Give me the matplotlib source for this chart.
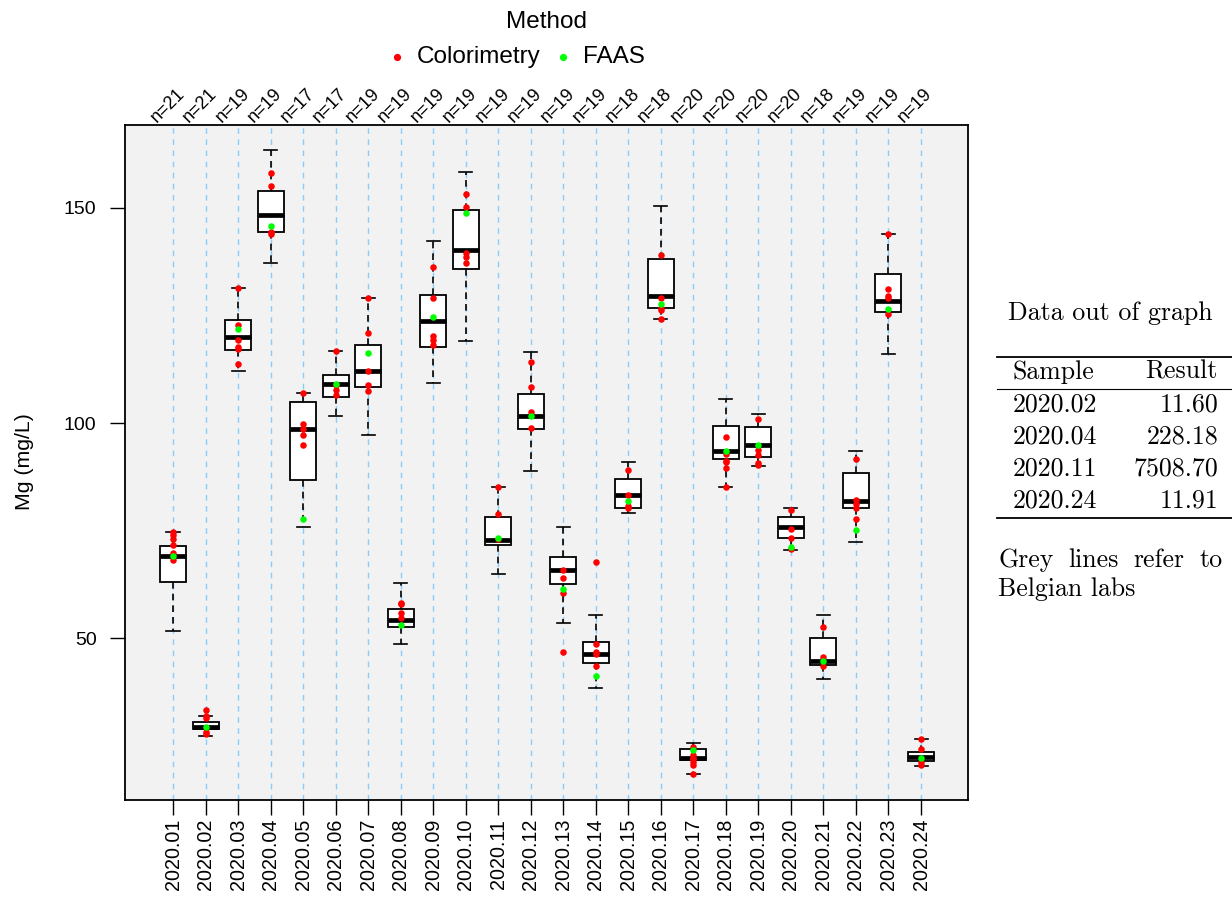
import matplotlib
matplotlib.use("Agg")
import matplotlib.pyplot as plt
from matplotlib.lines import Line2D

# ---------------- data ----------------
samples = ["2020.01", "2020.02", "2020.03", "2020.04", "2020.05", "2020.06",
           "2020.07", "2020.08", "2020.09", "2020.10", "2020.11", "2020.12",
           "2020.13", "2020.14", "2020.15", "2020.16", "2020.17", "2020.18",
           "2020.19", "2020.20", "2020.21", "2020.22", "2020.23", "2020.24"]
n_counts = [21, 21, 19, 19, 17, 17, 19, 19, 19, 19, 19, 19,
            19, 19, 18, 18, 20, 20, 20, 20, 18, 19, 19, 19]

whisk_lo = [51.7, 27.2, 112.1, 137.2, 75.9, 101.6, 97.3, 48.7, 109.4, 119.1, 64.8, 88.9,
            53.5, 38.3, 79.1, 124.1, 18.3, 85.1, 90.0, 70.5, 40.5, 72.3, 116.0, 20.3]
q1 = [63.0, 28.9, 116.9, 144.5, 86.7, 106.0, 108.4, 52.5, 117.7, 135.9, 71.6, 98.6,
      62.5, 44.2, 80.2, 126.7, 21.6, 91.6, 92.2, 73.3, 43.7, 80.2, 125.7, 21.3]
medians = [69.0, 29.4, 120.1, 148.4, 98.5, 109.1, 112.1, 54.2, 123.7, 140.3, 72.9, 101.6,
           65.7, 46.3, 83.3, 129.6, 22.2, 93.6, 94.9, 75.7, 44.7, 81.9, 128.4, 22.4]
q3 = [71.5, 30.5, 124.0, 153.9, 104.8, 111.1, 118.2, 56.7, 129.8, 149.5, 78.1, 106.7,
      68.8, 49.0, 87.0, 138.1, 24.1, 99.3, 99.1, 78.1, 49.9, 88.4, 134.7, 23.5]
whisk_hi = [74.7, 31.9, 131.3, 163.4, 107.0, 116.7, 129.1, 62.7, 142.3, 158.3, 85.2, 116.4,
            75.8, 55.3, 90.9, 150.4, 25.7, 105.5, 102.1, 80.3, 55.3, 93.5, 144.0, 26.4]

colorimetry = [
    [74.7, 74.0, 73.0, 71.6, 69.8, 68.1],
    [33.3, 31.9, 31.4, 28.2, 27.7],
    [131.3, 122.9, 119.2, 117.7, 117.2, 113.8],
    [158.1, 155.2, 144.5, 144.0],
    [107.0, 99.7, 98.5, 97.1, 95.0],
    [116.7, 108.9, 107.7, 106.4],
    [129.1, 120.9, 112.0, 108.9, 107.5],
    [58.2, 57.9, 55.9, 54.6],
    [136.2, 129.1, 120.2, 119.3, 118.1],
    [153.2, 150.3, 139.5, 138.7, 137.2],
    [85.2, 78.8, 73.0],
    [114.3, 108.4, 102.6, 98.9],
    [65.7, 64.0, 60.5, 46.7],
    [67.6, 48.7, 46.8, 46.3, 43.5],
    [89.0, 83.3, 80.8, 80.3],
    [139.1, 129.0, 126.7, 126.2, 124.1],
    [24.6, 22.8, 22.2, 21.8, 21.2, 20.5, 18.3],
    [96.7, 92.7, 91.2, 91.0, 89.5, 85.1],
    [100.9, 93.7, 92.6, 90.8, 90.2],
    [79.8, 75.3, 73.2, 70.6],
    [52.5, 45.7, 43.6],
    [91.7, 82.1, 81.1, 80.2, 77.7],
    [144.0, 131.1, 129.5, 129.0, 125.3],
    [26.4, 24.3, 21.2, 20.5],
]
faas = [69.1, 29.4, 121.9, 145.7, 77.6, 109.1, 116.3, 53.0, 124.7, 148.8, 73.2, 101.6,
        61.3, 41.1, 81.9, 127.7, 23.9, 93.6, 94.9, 71.2, 44.7, 75.1, 126.5, 22.2]

method_names = ["Colorimetry", "FAAS"]
method_colors = ["#FF0000", "#00FF00"]

out_samples = ["2020.02", "2020.04", "2020.11", "2020.24"]
out_results = ["11.60", "228.18", "7508.70", "11.91"]

# ---------------- figure ----------------
SANS = ["Liberation Sans", "DejaVu Sans"]
SERIF = ["cmr10", "DejaVu Serif"]
plt.rcParams["font.family"] = SANS
plt.rcParams["axes.unicode_minus"] = False

fig = plt.figure(figsize=(12.32, 8.99), dpi=100)


def fx(px):
    return px / 1232


def fy(py):
    return 1 - py / 899


ax = fig.add_axes([fx(125), fy(800), (968 - 125) / 1232, (800 - 125) / 899])
ax.set_facecolor("#F2F2F2")

positions = list(range(1, len(samples) + 1))

# vertical reference lines
for p in positions:
    ax.axvline(p, color="#87CEFA", lw=1.0, ls=(0, (4, 4)), zorder=1)

stats = []
for i, s in enumerate(samples):
    stats.append(dict(label=s, whislo=whisk_lo[i], q1=q1[i], med=medians[i],
                      q3=q3[i], whishi=whisk_hi[i], fliers=[]))

ax.bxp(stats, positions=positions, widths=0.8, showfliers=False, patch_artist=True,
       boxprops=dict(facecolor="white", edgecolor="black", linewidth=1.3),
       medianprops=dict(color="black", linewidth=3.4, solid_capstyle="butt"),
       whiskerprops=dict(color="black", linewidth=1.2, linestyle=(0, (4, 3))),
       capprops=dict(color="black", linewidth=1.2),
       capwidths=0.4, zorder=2)

for i, p in enumerate(positions):
    ax.scatter([p] * len(colorimetry[i]), colorimetry[i], s=22, color=method_colors[0],
               linewidths=0, zorder=4)
    ax.scatter([p], [faas[i]], s=22, color=method_colors[1], linewidths=0, zorder=5)

ax.set_xlim(-0.476, 25.445)
ax.set_ylim(12.33, 169.3)
ax.set_yticks([50, 100, 150])
ax.set_yticklabels(["50", "100", "150"], fontsize=14)
ax.set_xticks(positions)
ax.set_xticklabels(samples, rotation=90, fontsize=14.2)
ax.tick_params(axis="y", direction="out", length=10.5, width=1, color="black", pad=10)
ax.tick_params(axis="x", direction="out", length=10.5, width=1, color="black", pad=3)
for sp in ax.spines.values():
    sp.set_linewidth(1.3)
    sp.set_color("black")
fig.text(fx(25), fy(462), "Mg (mg/L)", rotation=90, fontsize=15.3,
         ha="center", va="center")

# n= labels on top
for p, n in zip(positions, n_counts):
    ax.annotate(f"n={n}", xy=(p, 1.0), xycoords=("data", "axes fraction"),
                xytext=(-4, 14), textcoords="offset points",
                rotation=45, ha="center", va="center", fontsize=13,
                rotation_mode="anchor", annotation_clip=False)

# legend on top (manual layout)
lfs = 17.5
fig.text(fx(547), fy(22), "Method", fontsize=lfs, ha="center", va="center")
for mx, tx, name, col in zip([397, 563], [417, 583], method_names, method_colors):
    fig.add_artist(Line2D([fx(mx)], [fy(57)], marker="o", ls="", color=col,
                          markersize=5.2, markeredgewidth=0,
                          transform=fig.transFigure))
    fig.text(fx(tx), fy(57), name, fontsize=lfs, ha="left", va="center")

# right-side table in serif (Computer Modern)
fs = 18.6
fig.text(fx(1110), fy(320), "Data out of graph", family=SERIF, fontsize=fs,
         ha="center", va="baseline")
for yy, lw in [(357, 1.3), (389, 0.8), (518, 1.3)]:
    fig.add_artist(Line2D([fx(997), fx(1232)], [fy(yy), fy(yy)], color="black",
                          lw=lw, transform=fig.transFigure))
fig.text(fx(1013), fy(378.5), "Sample", family=SERIF, fontsize=fs, ha="left",
         va="baseline")
fig.text(fx(1218), fy(378.5), "Result", family=SERIF, fontsize=fs, ha="right",
         va="baseline")
for k, (s, r) in enumerate(zip(out_samples, out_results)):
    yy = 411.5 + k * 32
    fig.text(fx(1013), fy(yy), s, family=SERIF, fontsize=fs, ha="left", va="baseline")
    fig.text(fx(1218), fy(yy), r, family=SERIF, fontsize=fs, ha="right", va="baseline")

# justified line "Grey lines refer to"
words = ["Grey", "lines", "refer", "to"]
word_texts = [fig.text(0, fy(567), w, family=SERIF, fontsize=fs, ha="left",
                       va="baseline") for w in words]
renderer = fig.canvas.get_renderer()
widths = [t.get_window_extent(renderer).width for t in word_texts]
left_px, right_px = 998, 1223
gap = (right_px - left_px - sum(widths)) / (len(words) - 1)
cur = left_px
for t, w in zip(word_texts, widths):
    t.set_x(fx(cur))
    cur += w + gap
fig.text(fx(998), fy(596), "Belgian labs", family=SERIF, fontsize=fs,
         ha="left", va="baseline")

fig.savefig("out.png", dpi=100)
